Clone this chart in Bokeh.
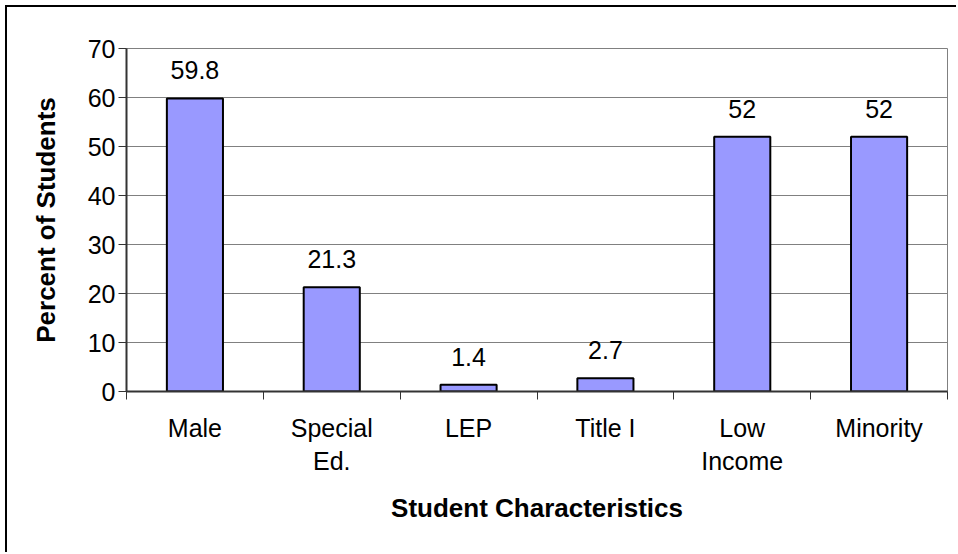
from bokeh.plotting import figure
from bokeh.models import ColumnDataSource, FixedTicker, Range1d
from bokeh.core.properties import value
from bokeh.embed import file_html
from bokeh.resources import INLINE

# ---- data ----
categories = ["Male", "Special\nEd.", "LEP", "Title I", "Low\nIncome", "Minority"]
percent = [59.8, 21.3, 1.4, 2.7, 52, 52]
y_ticks = [0, 10, 20, 30, 40, 50, 60, 70]

FONT = "Liberation Sans"

xs = [i + 0.5 for i in range(len(categories))]
src = ColumnDataSource(dict(
    x=xs,
    top=percent,
    label=[f"{v:g}" for v in percent],
))

p = figure(width=956, height=552,
           x_range=Range1d(0, len(categories)), y_range=Range1d(0, 70),
           output_backend="svg", toolbar_location=None,
           min_border_left=126, min_border_right=9,
           min_border_top=48, min_border_bottom=161)

# outer chart border (left and top edges visible in the reference)
p.styles = {"box-shadow": "inset 5px 5px 0 0 white, inset 7px 7px 0 0 black"}

p.vbar(x="x", top="top", width=0.41, bottom=0, source=src,
       fill_color="#9999FF", line_color="black", line_width=2)

p.text(x="x", y="top", text="label", source=src,
       text_align="center", text_baseline="alphabetic", y_offset=-28,
       text_font=value(FONT), text_font_size="25px", text_color="black")

# frame / grid
p.outline_line_color = "#808080"
p.outline_line_width = 1
p.xgrid.grid_line_color = None
p.ygrid.grid_line_color = "#808080"
p.ygrid.grid_line_width = 1
p.background_fill_color = "white"
p.border_fill_color = None

# y axis
yax = p.yaxis[0]
yax.ticker = FixedTicker(ticks=y_ticks, minor_ticks=[])
yax.axis_line_color = "#333333"
yax.axis_line_width = 2
yax.major_tick_line_color = "#333333"
yax.major_tick_line_width = 1
yax.major_tick_in = 0
yax.major_tick_out = 8
yax.minor_tick_line_color = None
yax.major_label_standoff = 3
yax.major_label_text_font = FONT
yax.major_label_text_font_size = "25px"
yax.major_label_text_color = "black"
yax.axis_label = "Percent of Students"
yax.axis_label_text_font = FONT
yax.axis_label_text_font_size = "26px"
yax.axis_label_text_font_style = "bold"
yax.axis_label_text_color = "black"
yax.axis_label_standoff = 24

# x axis: labels at category centres, tick marks at boundaries
xax = p.xaxis[0]
xax.ticker = FixedTicker(ticks=xs, minor_ticks=list(range(len(categories) + 1)))
xax.major_label_overrides = {x: c for x, c in zip(xs, categories)}
xax.axis_line_color = "#333333"
xax.axis_line_width = 2
xax.major_tick_line_color = None
xax.major_tick_in = 0
xax.major_tick_out = 0
xax.minor_tick_line_color = "#333333"
xax.minor_tick_line_width = 1
xax.minor_tick_in = 0
xax.minor_tick_out = 8
xax.major_label_standoff = 14
xax.major_label_text_font = FONT
xax.major_label_text_font_size = "25px"
xax.major_label_text_color = "black"
xax.major_label_text_line_height = 1.18
xax.axis_label = "Student Characteristics"
xax.axis_label_text_font = FONT
xax.axis_label_text_font_size = "26px"
xax.axis_label_text_font_style = "bold"
xax.axis_label_text_color = "black"
xax.axis_label_standoff = 15

open("out.html", "w").write(file_html(p, INLINE))
